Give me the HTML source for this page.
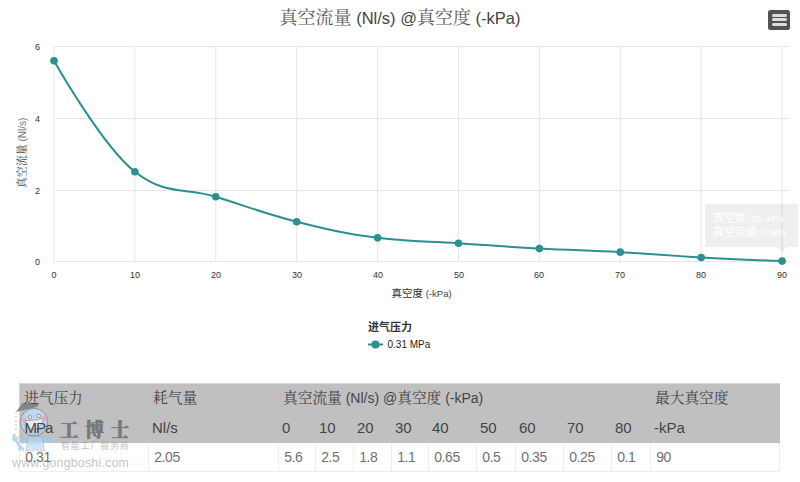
<!DOCTYPE html>
<html><head><meta charset="utf-8">
<style>
html,body{margin:0;padding:0;background:#fff;}
body{width:800px;height:482px;position:relative;overflow:hidden;font-family:"Liberation Sans","Noto Sans CJK SC",sans-serif;}
.a{position:absolute;white-space:nowrap;}
.s{font-family:"Noto Serif CJK SC","Liberation Serif",serif;}
#title{left:0;top:3.5px;width:800px;text-align:center;font-size:16.5px;color:#444;line-height:24px;}
#title .s{font-size:18px;color:#5c5c5c;}
#menu{left:768.3px;top:9.6px;width:22px;height:20.1px;background:#525252;border-radius:2.5px;}
#menu i{position:absolute;left:3.6px;width:15.6px;height:3px;background:#ddd;border-radius:1.5px;}
svg{position:absolute;left:0;top:0;}
.yl{font-size:9px;color:#333;text-align:right;width:20px;line-height:12px;}
.xl{font-size:9px;color:#333;text-align:center;width:30px;line-height:12px;}
#ytitle{left:22px;top:153px;transform:translate(-50%,-50%) rotate(-90deg);font-size:10px;color:#777;line-height:12px;}
#ytitle .s{font-size:11px;color:#444;}
#xtitle{left:391.5px;top:287px;font-size:9.6px;color:#444;line-height:12px;}
#xtitle .s{font-size:10.5px;color:#333;font-family:"Noto Sans CJK SC",sans-serif;}
#legtitle{left:368px;top:318px;font-size:11px;font-weight:bold;color:#333;}
#legitem{left:387.5px;top:339px;font-size:10px;color:#222;line-height:12px;}
#tip{left:705px;top:204px;width:93px;height:43px;background:rgba(0,0,0,0.062);color:#fff;font-size:9.4px;line-height:13.6px;}
#tip b{font-weight:normal;font-size:11px;}
#tip div{padding-left:8px;}
.tp{left:777px;top:247px;width:0;height:0;border-left:5px solid transparent;border-right:5px solid transparent;border-top:5px solid rgba(0,0,0,0.062);}
.th{font-size:14px;color:#444;line-height:16px;}
.th2{font-size:15px;color:#444;line-height:16px;}
.th.s,.th .s{font-size:14.7px;}
.td{font-size:14px;color:#707070;line-height:16px;letter-spacing:-0.4px;}
.hb{background:#c0c0c0;}
.bl{background:#eeeeee;}
.wm1{left:59.5px;top:417px;font-size:19px;font-weight:900;letter-spacing:6.5px;color:rgba(100,100,100,0.75);-webkit-text-stroke:0.7px rgba(100,100,100,0.5);font-family:"Noto Serif CJK SC",serif;line-height:24px;}
.wm2{left:61px;top:440px;font-size:9px;letter-spacing:0.8px;color:rgba(150,150,150,0.6);line-height:12px;font-family:"Noto Sans CJK SC",sans-serif;}
.wm3{left:12px;top:456px;font-size:12.4px;letter-spacing:0.2px;color:rgba(170,170,170,0.7);line-height:14px;}
</style></head>
<body>
<div id="title" class="a"><span class="s">真空流量</span> (Nl/s) @<span class="s">真空度</span> (-kPa)</div>
<div id="menu" class="a"><i style="top:4px"></i><i style="top:8.65px"></i><i style="top:13.3px"></i></div>
<svg width="800" height="482" viewBox="0 0 800 482"><g stroke="#e6e6e6" stroke-width="1" fill="none"><path d="M54 46.5H790M54 118.5H790M54 190.5H790M54 261.5H790M54.0 46.5V261.5M134.9 46.5V261.5M215.8 46.5V261.5M296.7 46.5V261.5M377.6 46.5V261.5M458.5 46.5V261.5M539.4 46.5V261.5M620.3 46.5V261.5M701.2 46.5V261.5M782.1 46.5V261.5"/></g><path d="M 54.00 60.79 C 54.00 60.79 102.54 146.64 134.90 171.68 C 167.26 196.71 183.44 186.70 215.80 196.71 C 248.16 206.73 264.34 213.53 296.70 221.75 C 329.06 229.98 345.24 233.56 377.60 237.85 C 409.96 242.14 426.14 241.07 458.50 243.22 C 490.86 245.36 507.04 246.79 539.40 248.58 C 571.76 250.37 587.94 250.37 620.30 252.16 C 652.66 253.95 668.84 255.73 701.20 257.52 C 733.56 259.31 782.10 261.10 782.10 261.10" stroke="#2b908f" stroke-width="2" fill="none"/><g fill="#2b908f"><circle cx="54.00" cy="60.79" r="3.8"/><circle cx="134.90" cy="171.68" r="3.8"/><circle cx="215.80" cy="196.71" r="3.8"/><circle cx="296.70" cy="221.75" r="3.8"/><circle cx="377.60" cy="237.85" r="3.8"/><circle cx="458.50" cy="243.22" r="3.8"/><circle cx="539.40" cy="248.58" r="3.8"/><circle cx="620.30" cy="252.16" r="3.8"/><circle cx="701.20" cy="257.52" r="3.8"/><circle cx="782.10" cy="261.10" r="3.8"/></g><path d="M368 344.5H383" stroke="#2b908f" stroke-width="2"/><circle cx="375.5" cy="344.5" r="4" fill="#2b908f"/></svg>
<div class="a yl" style="left:20px;top:41px">6</div>
<div class="a yl" style="left:20px;top:113px">4</div>
<div class="a yl" style="left:20px;top:185px">2</div>
<div class="a yl" style="left:20px;top:256px">0</div>
<div class="a xl" style="left:39px;top:269px">0</div>
<div class="a xl" style="left:120px;top:269px">10</div>
<div class="a xl" style="left:201px;top:269px">20</div>
<div class="a xl" style="left:282px;top:269px">30</div>
<div class="a xl" style="left:363px;top:269px">40</div>
<div class="a xl" style="left:444px;top:269px">50</div>
<div class="a xl" style="left:524px;top:269px">60</div>
<div class="a xl" style="left:605px;top:269px">70</div>
<div class="a xl" style="left:686px;top:269px">80</div>
<div class="a xl" style="left:767px;top:269px">90</div>
<div id="ytitle" class="a"><span class="s">真空流量</span> (Nl/s)</div>
<div id="xtitle" class="a"><span class="s">真空度</span> (-kPa)</div>
<div id="legtitle" class="a">进气压力</div>
<div id="legitem" class="a">0.31 MPa</div>
<div class="a tp"></div>
<div id="tip" class="a"><div style="padding-top:8px"><b>真空度</b>: 90 -kPa</div><div><b>真空流量</b>: 0 Nl/s</div></div>
<div class="a" style="left:19px;top:383px;width:761px;height:60px;background:#d6d6d6"></div>
<div class="a hb" style="left:20px;top:384px;width:760px;height:59px"></div>
<div class="a bl" style="left:19px;top:443px;width:1px;height:29px"></div>
<div class="a bl" style="left:148px;top:443px;width:1px;height:29px"></div>
<div class="a bl" style="left:278px;top:443px;width:1px;height:29px"></div>
<div class="a bl" style="left:315px;top:443px;width:1px;height:29px"></div>
<div class="a bl" style="left:353px;top:443px;width:1px;height:29px"></div>
<div class="a bl" style="left:391px;top:443px;width:1px;height:29px"></div>
<div class="a bl" style="left:428px;top:443px;width:1px;height:29px"></div>
<div class="a bl" style="left:476px;top:443px;width:1px;height:29px"></div>
<div class="a bl" style="left:515px;top:443px;width:1px;height:29px"></div>
<div class="a bl" style="left:563px;top:443px;width:1px;height:29px"></div>
<div class="a bl" style="left:611px;top:443px;width:1px;height:29px"></div>
<div class="a bl" style="left:650px;top:443px;width:1px;height:29px"></div>
<div class="a bl" style="left:779px;top:443px;width:1px;height:29px"></div>
<div class="a bl" style="left:19px;top:471px;width:761px;height:1px"></div>
<svg width="800" height="482" viewBox="0 0 800 482">
<defs><linearGradient id="hg" x1="0" y1="0" x2="0" y2="1"><stop offset="0" stop-color="#c6e0f2"/><stop offset="1" stop-color="#a4cdea"/></linearGradient>
<linearGradient id="bg" x1="0" y1="0" x2="0" y2="1"><stop offset="0" stop-color="#a6cfea"/><stop offset="1" stop-color="#d4eaf7"/></linearGradient></defs>
<g opacity="0.85">
<path d="M12.5 435.5 C13.5 433.5 15.5 433.5 16 434.5 L15 436.5 L16.5 437.5 L18 436 C19 437 18.5 439 17.5 440 L21 446 C22.5 446 24.5 448 24 450.5 L22.5 451 L22 449 L20.5 449.5 L21 451.5 C19 451.5 17.5 449.5 18.5 447.5 L15 441.5 C13 441.5 11.5 439.5 12.5 437.5 Z" fill="#a9d3ef"/>
<path d="M28.5 437 C25 438 22 439.5 20 441 L21.5 444.5 C24 443 26.5 442 29 441.5 Z" fill="#a3cdeb"/>
<path d="M42 437 C46 438.5 49 440 51 438.5 C52.5 437 54.5 435.5 57 436 C57.5 438 56 440 53.5 441.5 C51 443.5 46 443.5 42.5 442 Z" fill="#a3cdeb"/>
<path d="M28.3 436.3 L42.3 436.3 C43 441 43.8 446 44.5 451 L37 451 L35.3 447.5 L33.5 451 L25.8 451 C26.5 446 27.5 441 28.3 436.3 Z" fill="url(#bg)" stroke="#a99" stroke-width="0.5"/>
<circle cx="34" cy="422.2" r="13.8" fill="url(#hg)" stroke="#8c8c8c" stroke-width="1"/>
<path d="M16 412 L22.5 403 L39.6 403.4 L37 407 Z" fill="#7d7d7d"/>
<path d="M16 412 V432" stroke="#aaa" stroke-width="0.8" stroke-dasharray="2 2"/>
<circle cx="24.2" cy="420.5" r="2.6" fill="#f2a6c2"/><circle cx="43.8" cy="418.6" r="2.6" fill="#f2a6c2"/>
<circle cx="30" cy="417.2" r="1.7" fill="#fff" stroke="#777" stroke-width="0.8"/><circle cx="38.8" cy="415.9" r="1.7" fill="#fff" stroke="#777" stroke-width="0.8"/>
<path d="M25.5 420.5 C29 421 38 420 43.5 418.5 C42 425 37 429 33 429 C29 429 26.5 425 25.5 420.5 Z" fill="#f4f4f4" stroke="#888" stroke-width="0.6"/>
</g>
</svg>
<div class="a wm1">工博士</div>
<div class="a wm2">智能工厂服务商</div>
<div class="a wm3">www.gongboshi.com</div>
<div class="a th s" style="left:24px;top:389px">进气压力</div>
<div class="a th s" style="left:153px;top:389px">耗气量</div>
<div class="a th s" style="left:655px;top:389px">最大真空度</div>
<div class="a th" style="left:283px;top:389px"><span class="s">真空流量</span> (Nl/s) @<span class="s">真空度</span> (-kPa)</div>
<div class="a th2" style="left:24.5px;top:420px;letter-spacing:-1px">MPa</div>
<div class="a th2" style="left:152.0px;top:420px">Nl/s</div>
<div class="a th2" style="left:282.0px;top:420px">0</div>
<div class="a th2" style="left:319.0px;top:420px">10</div>
<div class="a th2" style="left:357.0px;top:420px">20</div>
<div class="a th2" style="left:395.0px;top:420px">30</div>
<div class="a th2" style="left:432.0px;top:420px">40</div>
<div class="a th2" style="left:480.0px;top:420px">50</div>
<div class="a th2" style="left:519.0px;top:420px">60</div>
<div class="a th2" style="left:567.0px;top:420px">70</div>
<div class="a th2" style="left:615.0px;top:420px">80</div>
<div class="a th2" style="left:654.0px;top:420px">-kPa</div>
<div class="a td" style="left:25.2px;top:449px">0.31</div>
<div class="a td" style="left:154.2px;top:449px">2.05</div>
<div class="a td" style="left:284.2px;top:449px">5.6</div>
<div class="a td" style="left:321.2px;top:449px">2.5</div>
<div class="a td" style="left:359.2px;top:449px">1.8</div>
<div class="a td" style="left:397.2px;top:449px">1.1</div>
<div class="a td" style="left:434.2px;top:449px">0.65</div>
<div class="a td" style="left:482.2px;top:449px">0.5</div>
<div class="a td" style="left:521.2px;top:449px">0.35</div>
<div class="a td" style="left:569.2px;top:449px">0.25</div>
<div class="a td" style="left:617.2px;top:449px">0.1</div>
<div class="a td" style="left:656.2px;top:449px">90</div>
</body></html>
